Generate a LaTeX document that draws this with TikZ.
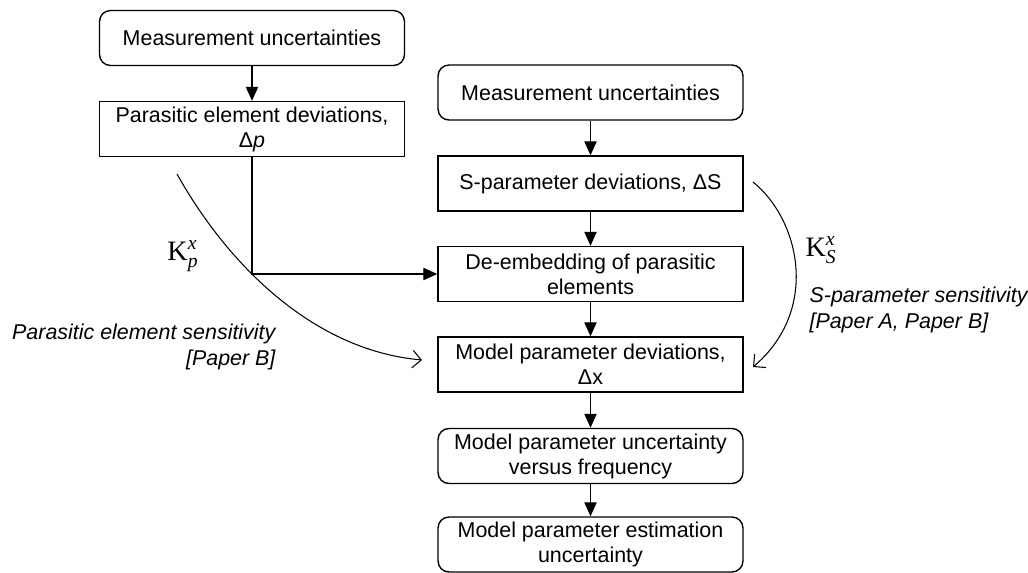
\documentclass[tikz,border=0pt]{standalone}
\usepackage{amsmath}
\usepackage{fontspec}
\setmainfont{Liberation Sans}
\newfontfamily\kfont{Liberation Serif}
\usetikzlibrary{shapes,positioning,arrows.meta}
\tikzset{box/.style={rectangle,draw,line width=0.8pt,minimum width=6.1cm,minimum height=1.1cm,inner sep=0.05cm,align=center,font=\fontsize{12.2}{14.2}\selectfont}}
\tikzset{rbox/.style={box,rounded corners=0.22cm}}
\tikzset{note/.style={font=\fontsize{12.2}{14.7}\selectfont\itshape}}
\tikzset{gain/.style={font=\fontsize{16}{18}\selectfont\kfont}}
\tikzset{sens/.style={line width=0.6pt,-{Straight Barb[length=5pt,width=10pt]}}}

\begin{document}
\begin{tikzpicture}[x=0.02cm,y=-0.02cm,>={Triangle[length=8pt,width=7pt]},line width=0.8pt]
    \useasboundingbox (0,0) rectangle (1028,572);

    \node[rbox] (mu1) at (252,38) {Measurement uncertainties};
    \node[box] (dp) at (252,129) {Parasitic element deviations,\\ Δ\textit{p}};

    \node[rbox] (mu2) at (590.5,92.5) {Measurement uncertainties};
    \node[box] (ds) at (590.5,183.5) {S-parameter deviations, ΔS};
    \node[box] (deemb) at (590.5,274) {De-embedding of parasitic\\ elements};
    \node[box] (dx) at (590.5,364.5) {Model parameter deviations,\\ Δx};
    \node[rbox] (freq) at (590.5,456) {Model parameter uncertainty\\ versus frequency};
    \node[rbox] (est) at (590.5,544.5) {Model parameter estimation\\ uncertainty};

    \node[gain] (kp) at (183,256) {${\text{\kfont K}}_{\text{\kfont\itshape p}}^{\text{\kfont\itshape x}}$};
    \node[gain] (ks) at (821,250) {${\text{\kfont K}}_{\text{\kfont\itshape S}}^{\text{\kfont\itshape x}}$};
    \node[note,anchor=east,align=right] (pnote) at (282,347) {Parasitic element sensitivity\\ {[Paper B]}};
    \node[note,anchor=west,align=left] (snote) at (803,310) {S-parameter sensitivity\\ {[Paper A, Paper B]}};

    \coordinate (p0) at (177,174);
    \coordinate (p1) at (422,360);
    \coordinate (s0) at (753,182);
    \coordinate (s1) at (753,367);

    \draw [->] (mu1) to (dp);
    \draw [->] (dp.south) |- (deemb.west);
    \draw [->] (mu2) to (ds);
    \draw [->] (ds) to (deemb);
    \draw [->] (deemb) to (dx);
    \draw [->] (dx) to (freq);
    \draw [->] (freq) to (est);

    \draw [sens] (p0) .. controls (225,260) and (310,350) .. (p1);
    \draw [sens] (s0) .. controls (800,220) and (820,310) .. (s1);
\end{tikzpicture}
\end{document}
